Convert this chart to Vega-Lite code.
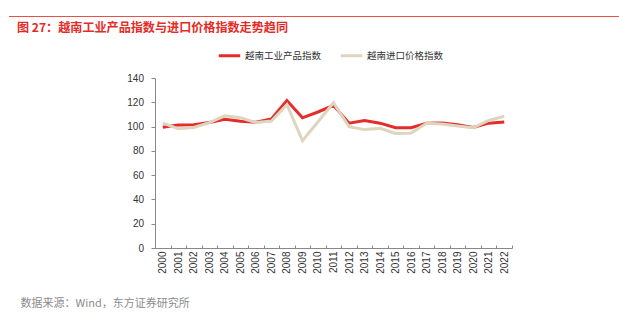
{
  "$schema": "https://vega.github.io/schema/vega-lite/v6.json",
  "padding": {"left": 9, "top": 16, "right": 0, "bottom": 0},
  "background": "white",
  "config": {"view": {"stroke": null}, "font": "Liberation Sans"},
  "spacing": 5,
  "vconcat": [
    {
      "width": 610, "height": 1,
      "view": {"fill": "#E8504A", "stroke": null},
      "data": {"values": []},
      "mark": "rule",
      "encoding": {}
    },
    {
      "spacing": 0,
      "hconcat": [
        {
          "width": 8, "height": 288,
          "data": {"values": []},
          "mark": "rule",
          "encoding": {}
        },
        {
          "width": 357, "height": 170,
          "title": {
            "text": "图 27：越南工业产品指数与进口价格指数走势趋同",
            "anchor": "start", "frame": "group", "dx": -138, "offset": 38.5,
            "font": "Noto Sans CJK SC", "fontSize": 12.1, "fontWeight": "bold", "color": "#E32B27"
          },
          "data": {"values": [
            {"year": "2000", "series": "越南工业产品指数", "value": 99.4},
            {"year": "2001", "series": "越南工业产品指数", "value": 101.2},
            {"year": "2002", "series": "越南工业产品指数", "value": 101.6},
            {"year": "2003", "series": "越南工业产品指数", "value": 103.3},
            {"year": "2004", "series": "越南工业产品指数", "value": 106.0},
            {"year": "2005", "series": "越南工业产品指数", "value": 104.4},
            {"year": "2006", "series": "越南工业产品指数", "value": 103.5},
            {"year": "2007", "series": "越南工业产品指数", "value": 106.2},
            {"year": "2008", "series": "越南工业产品指数", "value": 121.5},
            {"year": "2009", "series": "越南工业产品指数", "value": 107.2},
            {"year": "2010", "series": "越南工业产品指数", "value": 112.0},
            {"year": "2011", "series": "越南工业产品指数", "value": 117.5},
            {"year": "2012", "series": "越南工业产品指数", "value": 102.8},
            {"year": "2013", "series": "越南工业产品指数", "value": 105.0},
            {"year": "2014", "series": "越南工业产品指数", "value": 102.8},
            {"year": "2015", "series": "越南工业产品指数", "value": 99.0},
            {"year": "2016", "series": "越南工业产品指数", "value": 99.0},
            {"year": "2017", "series": "越南工业产品指数", "value": 102.8},
            {"year": "2018", "series": "越南工业产品指数", "value": 103.0},
            {"year": "2019", "series": "越南工业产品指数", "value": 101.5},
            {"year": "2020", "series": "越南工业产品指数", "value": 99.2},
            {"year": "2021", "series": "越南工业产品指数", "value": 102.8},
            {"year": "2022", "series": "越南工业产品指数", "value": 103.8},
            {"year": "2000", "series": "越南进口价格指数", "value": 102.8},
            {"year": "2001", "series": "越南进口价格指数", "value": 98.2},
            {"year": "2002", "series": "越南进口价格指数", "value": 99.2},
            {"year": "2003", "series": "越南进口价格指数", "value": 103.3},
            {"year": "2004", "series": "越南进口价格指数", "value": 108.8},
            {"year": "2005", "series": "越南进口价格指数", "value": 107.2},
            {"year": "2006", "series": "越南进口价格指数", "value": 103.3},
            {"year": "2007", "series": "越南进口价格指数", "value": 104.5},
            {"year": "2008", "series": "越南进口价格指数", "value": 118.0},
            {"year": "2009", "series": "越南进口价格指数", "value": 88.4},
            {"year": "2010", "series": "越南进口价格指数", "value": 104.0},
            {"year": "2011", "series": "越南进口价格指数", "value": 119.5},
            {"year": "2012", "series": "越南进口价格指数", "value": 100.0},
            {"year": "2013", "series": "越南进口价格指数", "value": 97.5},
            {"year": "2014", "series": "越南进口价格指数", "value": 98.5},
            {"year": "2015", "series": "越南进口价格指数", "value": 94.3},
            {"year": "2016", "series": "越南进口价格指数", "value": 94.6},
            {"year": "2017", "series": "越南进口价格指数", "value": 102.8},
            {"year": "2018", "series": "越南进口价格指数", "value": 102.2},
            {"year": "2019", "series": "越南进口价格指数", "value": 100.5},
            {"year": "2020", "series": "越南进口价格指数", "value": 99.0},
            {"year": "2021", "series": "越南进口价格指数", "value": 105.0},
            {"year": "2022", "series": "越南进口价格指数", "value": 108.5}
          ]},
          "mark": {"type": "line", "strokeWidth": 3},
          "encoding": {
            "x": {
              "field": "year", "type": "ordinal", "bandPosition": 0.5,
              "scale": {"type": "band", "paddingInner": 0, "paddingOuter": 0},
              "axis": {
                "title": "数据来源：Wind，东方证券研究所",
                "titleFont": "Noto Sans CJK SC", "titleFontSize": 11, "titleFontWeight": "normal",
                "titleColor": "#8C8C8C", "titleAlign": "left", "titleAnchor": "start",
                "titleBaseline": "alphabetic", "titleX": -135, "titleY": 58,
                "labelAngle": -90, "labelFont": "Liberation Sans", "labelFontSize": 10,
                "labelColor": "#333333", "labelPadding": 6,
                "tickBand": "extent", "tickSize": -3, "tickColor": "#888888",
                "domainColor": "#888888"
              }
            },
            "y": {
              "field": "value", "type": "quantitative",
              "scale": {"domain": [0, 140], "nice": false},
              "axis": {
                "title": null, "values": [0, 20, 40, 60, 80, 100, 120, 140],
                "labelFont": "Liberation Sans", "labelFontSize": 10, "labelColor": "#333333",
                "tickSize": 4, "tickColor": "#888888", "domainColor": "#888888",
                "labelPadding": 7.5, "grid": false
              }
            },
            "color": {
              "field": "series", "type": "nominal",
              "scale": {"domain": ["越南工业产品指数", "越南进口价格指数"], "range": ["#E62B2B", "#DDD5BD"]},
              "legend": {
                "orient": "none", "legendX": 208, "legendY": 27, "direction": "horizontal",
                "title": null, "symbolType": "stroke", "symbolSize": 460, "symbolStrokeWidth": 3,
                "labelFont": "Noto Sans CJK SC", "labelFontSize": 9.5, "labelColor": "#333333",
                "labelOffset": 3, "columnPadding": 12, "padding": 0
              }
            }
          }
        }
      ]
    },
    {
      "width": 610, "height": 1,
      "view": {"fill": "#E8504A", "stroke": null},
      "data": {"values": []},
      "mark": "rule",
      "encoding": {}
    }
  ]
}
